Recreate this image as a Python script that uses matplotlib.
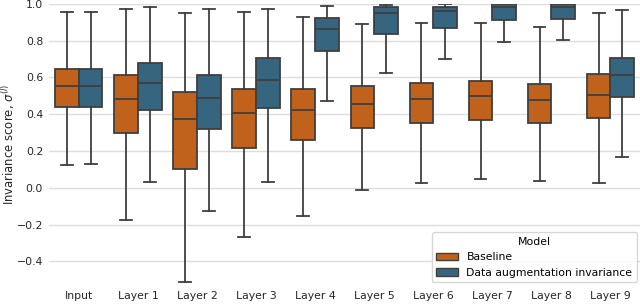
import numpy as np
import matplotlib.pyplot as plt
from matplotlib.patches import Patch

### data ###

categories = ['Input', 'Layer 1', 'Layer 2', 'Layer 3', 'Layer 4',
              'Layer 5', 'Layer 6', 'Layer 7', 'Layer 8', 'Layer 9']
models = ['Baseline', 'Data augmentation invariance']

# box statistics: whisker low, q1, median, q3, whisker high
base_lo = [0.126, -0.178, -0.515, -0.270, -0.151, -0.014, 0.025, 0.047, 0.038, 0.025]
base_q1 = [0.440, 0.299, 0.104, 0.216, 0.261, 0.326, 0.355, 0.371, 0.353, 0.380]
base_med = [0.553, 0.483, 0.373, 0.405, 0.423, 0.458, 0.481, 0.499, 0.479, 0.506]
base_q3 = [0.647, 0.612, 0.519, 0.539, 0.535, 0.553, 0.571, 0.582, 0.564, 0.620]
base_hi = [0.957, 0.975, 0.951, 0.958, 0.931, 0.890, 0.896, 0.896, 0.872, 0.949]

aug_lo = [0.128, 0.029, -0.128, 0.034, 0.472, 0.622, 0.703, 0.791, 0.802, 0.167]
aug_q1 = [0.440, 0.423, 0.319, 0.436, 0.742, 0.836, 0.868, 0.912, 0.919, 0.492]
aug_med = [0.553, 0.568, 0.488, 0.589, 0.865, 0.949, 0.960, 0.982, 0.984, 0.616]
aug_q3 = [0.647, 0.681, 0.612, 0.706, 0.922, 0.982, 0.982, 1.000, 1.000, 0.708]
aug_hi = [0.957, 0.984, 0.975, 0.975, 0.990, 0.995, 0.998, 1.000, 1.000, 0.966]

colors = ['#c0621c', '#36667f']
line_col = '#3f3f3f'

###

def make_stats(lo, q1, med, q3, hi):
    return [dict(whislo=a, q1=b, med=c, q3=d, whishi=e, fliers=[])
            for a, b, c, d, e in zip(lo, q1, med, q3, hi)]

plt.rcParams['font.family'] = 'DejaVu Sans'
fs = 7.8
fig = plt.figure(figsize=(6.4, 3.05), dpi=100)
ax = fig.add_axes([0.077, 0.065, 0.923, 0.922])

x = np.arange(len(categories))
w = 0.4
groups = [make_stats(base_lo, base_q1, base_med, base_q3, base_hi),
          make_stats(aug_lo, aug_q1, aug_med, aug_q3, aug_hi)]

for i, stats in enumerate(groups):
    pos = x + (i - 0.5) * w
    ax.bxp(stats, positions=pos, widths=w, patch_artist=True, showfliers=False,
           boxprops=dict(facecolor=colors[i], edgecolor=line_col, linewidth=1.3),
           medianprops=dict(color=line_col, linewidth=1.3),
           whiskerprops=dict(color=line_col, linewidth=1.3),
           capprops=dict(color=line_col, linewidth=1.3),
           zorder=3)

ax.set_xticks(x)
ax.set_xticklabels(categories, fontsize=fs, color='#262626')
ax.set_xlim(-0.5, len(categories) - 0.5)
ax.set_ylim(-0.53, 1.0)
ax.set_yticks([-0.4, -0.2, 0.0, 0.2, 0.4, 0.6, 0.8, 1.0])
ax.set_yticklabels(['\u22120.4', '\u22120.2', '0.0', '0.2', '0.4', '0.6', '0.8', '1.0'],
                   fontsize=fs, color='#262626')
ax.set_ylabel(r'Invariance score, $\sigma^{(l)}$', fontsize=8.4, color='#262626', labelpad=0)
ax.tick_params(axis='x', length=0, pad=4)
ax.tick_params(axis='y', length=0, pad=4.5)
ax.grid(axis='y', color='#dddddd', linewidth=1, zorder=0)
ax.set_axisbelow(True)
for s in ax.spines.values():
    s.set_visible(False)

handles = [Patch(facecolor=colors[i], edgecolor=line_col, label=models[i]) for i in range(2)]
leg = ax.legend(handles=handles, title='Model', loc='lower right', fontsize=fs,
                title_fontsize=fs, frameon=True, borderaxespad=0.3)
leg.get_frame().set_edgecolor('#cccccc')

plt.savefig('out.png', dpi=100)
